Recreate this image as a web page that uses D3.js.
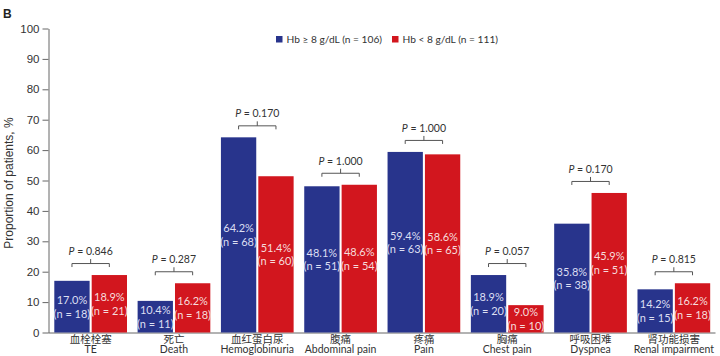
<!DOCTYPE html>
<html><head><meta charset="utf-8">
<script src="https://cdn.jsdelivr.net/npm/d3@7"></script>
<style>
html,body{margin:0;padding:0;background:#fff;}
svg{display:block;}
</style></head>
<body>
<svg id="chart" width="720" height="356"></svg>
<script>
const categoriesZh = ["血栓栓塞","死亡","血红蛋白尿","腹痛","疼痛","胸痛","呼吸困难","肾功能损害"];
const categoriesEn = ["TE","Death","Hemoglobinuria","Abdominal pain","Pain","Chest pain","Dyspnea","Renal impairment"];
const seriesNames = ["Hb ≥ 8 g/dL (n = 106)","Hb < 8 g/dL (n = 111)"];
const hbHigh = [17.0,10.4,64.2,48.1,59.4,18.9,35.8,14.2];
const hbHighN = [18,11,68,51,63,20,38,15];
const hbLow = [18.9,16.2,51.4,48.6,58.6,9.0,45.9,16.2];
const hbLowN = [21,18,60,54,65,10,51,18];
const pValues = ["0.846","0.287","0.170","1.000","1.000","0.057","0.170","0.815"];
const yTicks = [0,10,20,30,40,50,60,70,80,90,100];
const colors = ["#28348c","#d2161e"];
const textColors = ["#dcdff2","#f6dcdc"];

const svg = d3.select("#chart");
const labelFont = "Lato, 'Open Sans', sans-serif";

const y = d3.scaleLinear().domain([0,100]).range([332.5,28.5]);
const x = d3.scaleBand().domain(categoriesEn).range([49,715.5]).padding(0);
const xs = d3.scaleBand().domain([0,1]).range([5.3,78]).paddingInner(0.055);

// panel letter
svg.append("text").attr("x",3).attr("y",18).attr("font-family","Arial, 'Liberation Sans', sans-serif")
  .attr("font-weight","bold").attr("font-size",12).attr("fill","#222").text("B");

// y axis
const yAxis = svg.append("g").attr("transform","translate(48.5,0)")
  .call(d3.axisLeft(y).tickValues(yTicks).tickSize(6).tickPadding(3).tickSizeOuter(0));
yAxis.selectAll("path,line").attr("stroke","#666");
yAxis.selectAll("text").attr("font-family","Arial, 'Liberation Sans', sans-serif").attr("font-size",11.5).attr("fill","#333");

// baseline
svg.append("line").attr("x1",48.5).attr("x2",715.5).attr("y1",y(0)+0.5).attr("y2",y(0)+0.5).attr("stroke","#666");

// y title
svg.append("text").attr("transform","translate(13,183) rotate(-90)").attr("text-anchor","middle")
  .attr("font-family","Arial, 'Liberation Sans', sans-serif").attr("font-size",12).attr("fill","#333")
  .text("Proportion of patients, %");

const data = categoriesEn.map((c,i)=>({cat:c, zh:categoriesZh[i], vals:[hbHigh[i],hbLow[i]], ns:[hbHighN[i],hbLowN[i]], p:pValues[i]}));

const g = svg.append("g");
data.forEach(d=>{
  const gx = x(d.cat);
  d.vals.forEach((v,s)=>{
    const bx = gx + xs(s), bw = xs.bandwidth();
    g.append("rect").attr("x",bx).attr("y",y(v)).attr("width",bw).attr("height",y(0)-y(v)).attr("fill",colors[s]);
    const cy = (y(v)+y(0))/2;
    const t = g.append("text").attr("text-anchor","middle").attr("font-family",labelFont).attr("font-size",11).attr("fill",textColors[s]);
    t.append("tspan").attr("x",bx+bw/2).attr("y",cy-2.5).text(v.toFixed(1)+"%");
    t.append("tspan").attr("x",bx+bw/2).attr("y",cy+11).text("(n = "+d.ns[s]+")");
  });
  // bracket
  const top = y(d3.max(d.vals));
  const ly = top - 11.5;
  const x1 = gx + xs(0) + xs.bandwidth()/2, x2 = gx + xs(1) + xs.bandwidth()/2;
  const cx = (x1+x2)/2;
  g.append("path").attr("d",`M${x1},${ly+3.5}V${ly}H${x2}V${ly+3.5}M${cx},${ly}V${ly-4.5}`)
    .attr("fill","none").attr("stroke","#555").attr("stroke-width",1);
  const pt = g.append("text").attr("x",cx).attr("y",ly-8.5).attr("text-anchor","middle")
    .attr("font-family",labelFont).attr("font-size",10.5).attr("fill","#333");
  pt.append("tspan").attr("font-style","italic").text("P");
  pt.append("tspan").text(" = "+d.p);
  // category labels
  g.append("text").attr("x",gx+83.3/2).attr("y",343).attr("text-anchor","middle")
    .attr("font-family","'Noto Sans CJK SC', sans-serif").attr("font-size",10.5).attr("fill","#333").text(d.zh);
  g.append("text").attr("x",gx+83.3/2).attr("y",353).attr("text-anchor","middle")
    .attr("font-family",labelFont).attr("font-size",10.5).attr("fill","#333").text(d.cat);
});

// legend
const legX = [276, 392];
seriesNames.forEach((n,i)=>{
  svg.append("rect").attr("x",legX[i]).attr("y",36).attr("width",6.5).attr("height",6.5).attr("fill",colors[i]);
  svg.append("text").attr("x",legX[i]+10.5).attr("y",43.3).attr("font-family",labelFont).attr("font-size",10.2)
    .attr("fill","#333").text(n);
});
</script>
</body></html>
